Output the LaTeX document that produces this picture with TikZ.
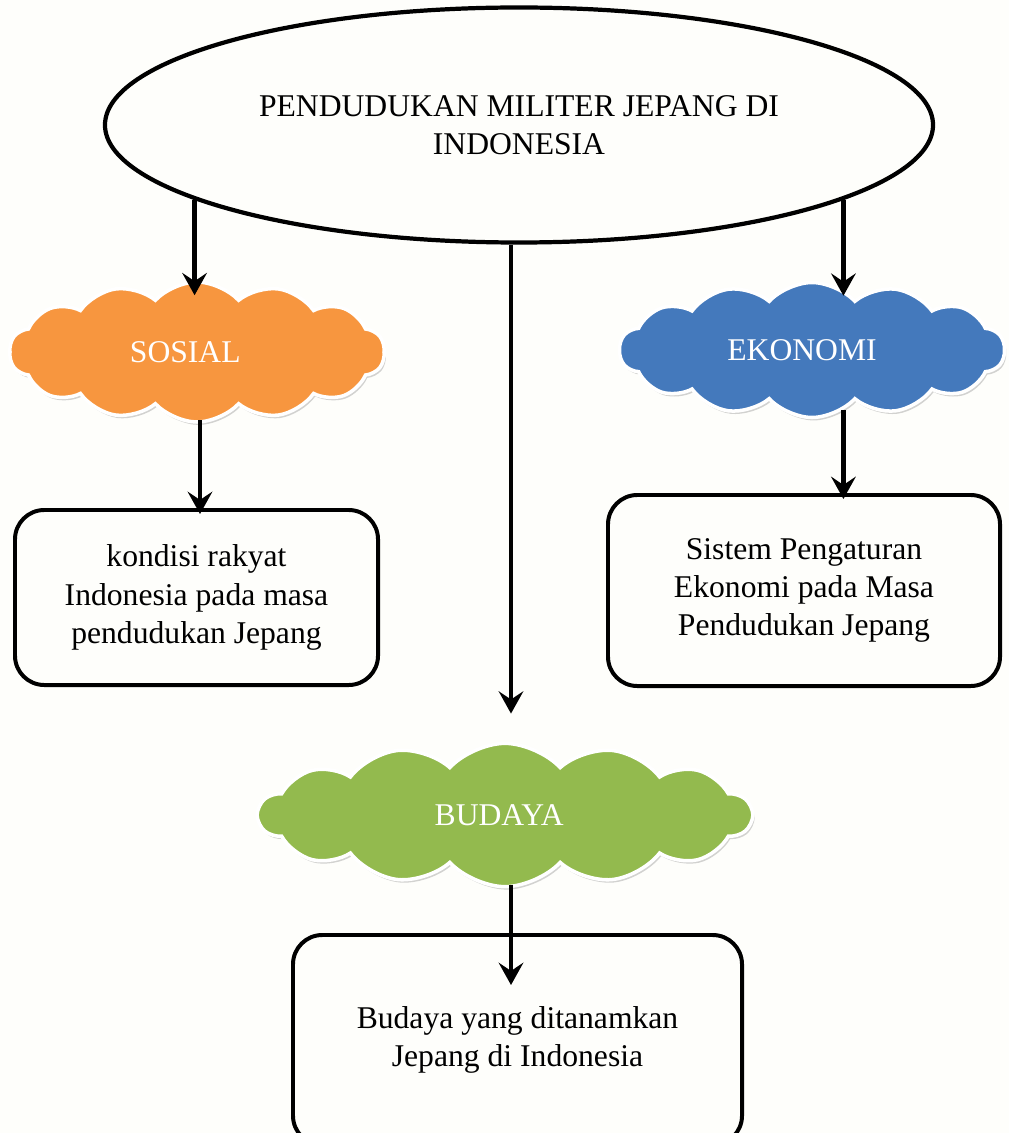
\documentclass[tikz,border=0pt]{standalone}
\usepackage{fontspec}
\setmainfont{Liberation Serif}
\usetikzlibrary{shapes.geometric,shapes.symbols,shadows,arrows.meta,calc}
\definecolor{cOrange}{HTML}{F7963F}
\definecolor{cBlue}{HTML}{4479BC}
\definecolor{cGreen}{HTML}{93BA4E}
\definecolor{cBg}{HTML}{FEFEFB}
\begin{document}
\begin{tikzpicture}[x=0.03cm,y=-0.03cm,
  txt/.style={font=\fontsize{27}{32.5}\selectfont, align=center},
  arr/.style={line width=4.2pt, -{Stealth[length=19pt,width=21pt,inset=7pt]}},
  cloudbox/.style={cloud, cloud puffs=14, cloud puff arc=95, cloud ignores aspect,
    draw=white, line width=3pt, inner sep=0pt,
    drop shadow={opacity=0.35,shadow xshift=1.5pt,shadow yshift=-2.5pt},
    text=white, txt},
  rbox/.style={draw=black, line width=3.4pt, rounded corners=25pt, fill=cBg,
    inner sep=0pt, txt}]
\useasboundingbox (0,0) rectangle (1009,1133);
\clip (0,0) rectangle (1009,1133);
\fill[cBg] (0,0) rectangle (1009,1133);

% top ellipse
\node[ellipse, draw=black, line width=3.6pt, fill=cBg, minimum width=24.84cm,
  minimum height=7.05cm, inner sep=0pt, txt] (ell) at (519,125)
  {\rule{0pt}{14pt}PENDUDUKAN MILITER JEPANG DI\\INDONESIA};

% clouds
\node[cloudbox, fill=cOrange, minimum width=11.25cm, minimum height=4.2cm]
  (sosial) at (197,352) {SOSIAL\hspace*{20pt}};
\node[cloudbox, fill=cBlue, minimum width=11.55cm, minimum height=4.05cm]
  (eko) at (812,350) {EKONOMI\hspace*{17pt}};
\node[cloudbox, fill=cGreen, minimum width=14.79cm, minimum height=4.3cm]
  (bud) at (505,815) {BUDAYA\hspace*{10pt}};

% boxes
\node[rbox, minimum width=10.89cm, minimum height=5.25cm] (sbox) at (196.5,597.5)
  {kondisi rakyat\\Indonesia pada masa\\pendudukan Jepang};
\node[rbox, minimum width=11.76cm, minimum height=5.73cm] (ebox) at (804,590.5)
  {Sistem Pengaturan\\Ekonomi pada Masa\\Pendudukan Jepang};
\node[rbox, minimum width=13.47cm, minimum height=6.3cm] (bbox) at (517.5,1040)
  {Budaya yang ditanamkan\\Jepang di Indonesia};

% helper coordinates
\coordinate (sTip) at ($(ell.193 |- sosial.north)+(0,15)$);
\coordinate (eTip) at ($(ell.347 |- eko.north)+(0,15)$);
\coordinate (bStart) at ($(ell.south)+(-8,0)$);
\coordinate (bTip) at ($(bStart |- bud.north)+(0,-28)$);
\coordinate (sbStart) at ($(sosial.center)+(3,68)$);
\coordinate (sbTip) at ($(sbStart |- sbox.north)+(0,6)$);
\coordinate (ebStart) at ($(ell.347 |- eko.center)+(0,60)$);
\coordinate (ebTip) at ($(ell.347 |- ebox.north)+(0,6)$);
\coordinate (bbStart) at ($(bud.center)+(6,70)$);
\coordinate (bbTip) at ($(bbStart |- bbox.north)+(0,52)$);

% arrows
\draw[arr] (ell.193) -- (sTip);
\draw[arr] (ell.347) -- (eTip);
\draw[arr] (bStart) -- (bTip);
\draw[arr] (sbStart) -- (sbTip);
\draw[arr] (ebStart) -- (ebTip);
\draw[arr] (bbStart) -- (bbTip);
\end{tikzpicture}
\end{document}
